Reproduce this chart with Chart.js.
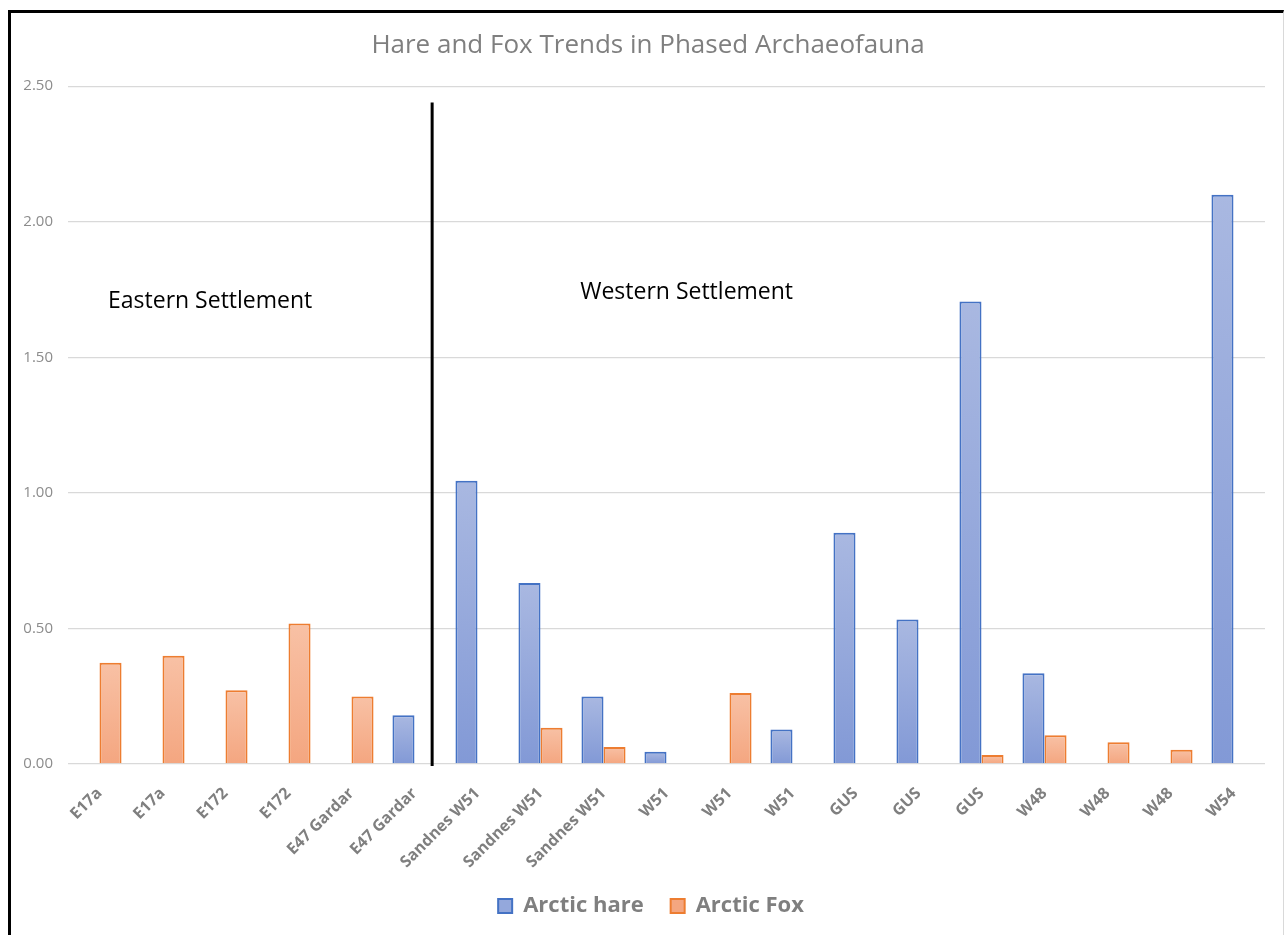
<!DOCTYPE html>
<html>
<head>
<meta charset="utf-8">
<script src="https://cdn.jsdelivr.net/npm/chart.js@4.4.1/dist/chart.umd.min.js"></script>
<style>
  html, body { margin: 0; padding: 0; background: #fff; overflow: hidden; }
  #frame {
    position: absolute; left: 8px; top: 10px;
    width: 1272px; height: 940px;
    border-top: 3px solid #000; border-left: 3px solid #000; border-right: 1px solid #d9d9d9;
  }
  #wrap { position: relative; width: 1272px; height: 922px; }
</style>
</head>
<body>
<div id="frame"><div id="wrap"><canvas id="chart"></canvas></div></div>
<script>
const sites = ['E17a', 'E17a', 'E172', 'E172', 'E47 Gardar', 'E47 Gardar', 'Sandnes W51', 'Sandnes W51',
  'Sandnes W51', 'W51', 'W51', 'W51', 'GUS', 'GUS', 'GUS', 'W48', 'W48', 'W48', 'W54'];
const arcticHare = [null, null, null, null, null, 0.18, 1.045, 0.668, 0.249, 0.045, null, 0.127,
  0.853, 0.533, 1.706, 0.335, null, null, 2.10];
const arcticFox = [0.373, 0.399, 0.272, 0.518, 0.249, null, null, 0.134, 0.063, null, 0.262, null,
  null, null, 0.033, 0.106, 0.080, 0.053, null];
const yTicks = [0, 0.5, 1, 1.5, 2, 2.5];

// divider and region notes, in category / value units
const divider = { at: 5.28, top: 2.44 };
const notes = [
  { text: 'Eastern Settlement', x: 0.135, y: 1.706 },
  { text: 'Western Settlement', x: 7.63, y: 1.739 }
];

const FONT = '"Open Sans", "Liberation Sans", sans-serif';

// vertical gradient per bar, light at the top
function barFill(light, dark, flat) {
  return ctx => {
    if (ctx.type !== 'data' || ctx.raw == null) return flat;
    const chart = ctx.chart;
    const y = chart.scales.y;
    if (!chart.chartArea || !y) return flat;
    const top = y.getPixelForValue(ctx.raw);
    const base = y.getPixelForValue(0);
    if (!isFinite(top) || top === base) return flat;
    const g = chart.ctx.createLinearGradient(0, top, 0, base);
    g.addColorStop(0, light);
    g.addColorStop(1, dark);
    return g;
  };
}

const settlementNotes = {
  id: 'settlementNotes',
  afterLayout(chart) {
    // title and legend sit centred on the whole frame, not the plot
    const lg = chart.legend;
    if (lg) { lg.left += 13; lg.right += 13; }
    const tt = chart.titleBlock;
    if (tt) { tt.left += 10; tt.right += 10; }
  },
  afterDatasetsDraw(chart) {
    const { ctx, scales: { x, y } } = chart;
    const step = x.getPixelForValue(1) - x.getPixelForValue(0);
    const px = v => x.getPixelForValue(0) + v * step;
    ctx.save();
    ctx.strokeStyle = '#000';
    ctx.lineWidth = 3;
    ctx.beginPath();
    ctx.moveTo(px(divider.at), y.getPixelForValue(divider.top));
    ctx.lineTo(px(divider.at), y.getPixelForValue(0) + 2);
    ctx.stroke();
    ctx.fillStyle = '#000';
    ctx.font = '23px ' + FONT;
    ctx.textAlign = 'left';
    ctx.textBaseline = 'middle';
    notes.forEach(n => ctx.fillText(n.text, px(n.x), y.getPixelForValue(n.y)));
    ctx.restore();
  }
};

new Chart(document.getElementById('chart'), {
  type: 'bar',
  data: {
    labels: sites,
    datasets: [
      {
        label: 'Arctic hare',
        data: arcticHare,
        backgroundColor: barFill('#a9b8e1', '#8299d6', '#94a8dc'),
        borderColor: '#4472c4',
        borderWidth: 2
      },
      {
        label: 'Arctic Fox',
        data: arcticFox,
        backgroundColor: barFill('#f8c1a5', '#f4a680', '#f6b393'),
        borderColor: '#ed7d31',
        borderWidth: 2
      }
    ]
  },
  options: {
    responsive: true,
    maintainAspectRatio: false,
    animation: false,
    categoryPercentage: 0.7,
    barPercentage: 1.0,
    layout: { padding: { top: 2, left: 0, right: 18, bottom: 8 } },
    plugins: {
      title: {
        display: true,
        text: 'Hare and Fox Trends in Phased Archaeofauna',
        color: '#7f7f7f',
        font: { family: FONT, size: 26, weight: 'normal' },
        padding: { top: 15, bottom: 25 }
      },
      legend: {
        position: 'bottom',
        labels: {
          color: '#7f7f7f',
          font: { family: FONT, size: 22, weight: 'bold' },
          boxWidth: 14,
          boxHeight: 14,
          padding: 27
        }
      },
      tooltip: { enabled: false }
    },
    scales: {
      x: {
        grid: { display: false },
        border: { display: false },
        ticks: {
          color: '#7f7f7f',
          font: { family: FONT, size: 16, weight: 'bold' },
          minRotation: 45,
          maxRotation: 45,
          autoSkip: false,
          padding: 12
        },
        afterFit(s) { s.height = 104; }
      },
      y: {
        min: 0,
        max: 2.5,
        afterBuildTicks(s) { s.ticks = yTicks.map(v => ({ value: v })); },
        grid: { color: '#d9d9d9', lineWidth: 1.3, drawTicks: false },
        border: { display: false },
        ticks: {
          color: '#8c8c8c',
          font: { family: FONT, size: 15 },
          padding: 15,
          callback: v => v.toFixed(2)
        },
        afterFit(s) { s.width = 57; }
      }
    }
  },
  plugins: [settlementNotes]
});
</script>
</body>
</html>
